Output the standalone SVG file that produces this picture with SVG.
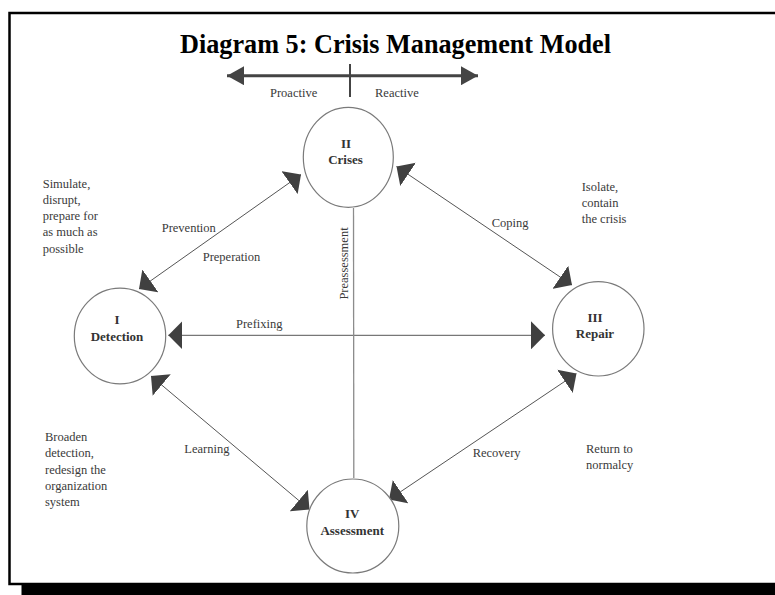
<svg xmlns="http://www.w3.org/2000/svg" width="775" height="595" viewBox="0 0 775 595">
  <style>
    .node ellipse { fill: #ffffff; stroke: #7a7a7a; stroke-width: 1.2; }
    .num { font-family: "Liberation Serif", "Times New Roman", serif; font-size: 13px; font-weight: bold; fill: #333333; text-anchor: middle; }
    .name { font-family: "Liberation Serif", "Times New Roman", serif; font-size: 13px; font-weight: bold; fill: #333333; text-anchor: middle; }
    .edge { fill: none; stroke: #555555; stroke-width: 1; marker-start: url(#wide); marker-end: url(#wide); }
    .label { font-family: "Liberation Serif", "Times New Roman", serif; font-size: 12.5px; fill: #3a3a3a; }
    .note { font-family: "Liberation Serif", "Times New Roman", serif; font-size: 12.5px; fill: #3a3a3a; }
    .title { font-family: "Liberation Serif", "Times New Roman", serif; font-size: 27px; font-weight: bold; fill: #000000; }
  </style>
  <defs>
    <!-- broad 90-degree arrowhead used on the cycle connectors -->
    <marker id="wide" viewBox="0 0 14 28" refX="14" refY="14" markerWidth="14" markerHeight="28" markerUnits="userSpaceOnUse" orient="auto-start-reverse">
      <path d="M0,0 L14,14 L0,28 Z" fill="#404040"/>
    </marker>
    <!-- arrowhead for the proactive / reactive scale -->
    <marker id="scale" viewBox="0 0 17 19" refX="17" refY="9.5" markerWidth="17" markerHeight="19" markerUnits="userSpaceOnUse" orient="auto-start-reverse">
      <path d="M0,0 L17,9.5 L0,19 Z" fill="#444444"/>
    </marker>
  </defs>

  <rect width="775" height="595" fill="#ffffff"/>

  <!-- page frame with drop shadow -->
  <rect x="21.5" y="584" width="760" height="12" fill="#000000"/>
  <rect x="9.5" y="13" width="780" height="571" fill="none" stroke="#000000" stroke-width="2.5"/>

  <text class="title" x="180" y="52.5" textLength="431" lengthAdjust="spacingAndGlyphs">Diagram 5: Crisis Management Model</text>

  <!-- proactive / reactive scale -->
  <g id="scale-bar">
    <line x1="227" y1="75.7" x2="478" y2="75.7" stroke="#444444" stroke-width="3" marker-start="url(#scale)" marker-end="url(#scale)"/>
    <line x1="350" y1="64" x2="350" y2="97" stroke="#444444" stroke-width="2"/>
    <text class="label" x="270" y="97">Proactive</text>
    <text class="label" x="375" y="97">Reactive</text>
  </g>

  <!-- connectors -->
  <g id="connectors">
    <line class="edge" x1="139" y1="289" x2="301" y2="174.6"/>
    <line class="edge" x1="396.5" y1="166.5" x2="572" y2="285"/>
    <line class="edge" x1="168.3" y1="335.3" x2="545" y2="335.3"/>
    <line class="edge" x1="151" y1="376" x2="309.5" y2="509.5"/>
    <line class="edge" x1="576.5" y1="373.5" x2="389" y2="499.5"/>
    <line x1="353.5" y1="208" x2="353.8" y2="478" stroke="#8c8c8c" stroke-width="1.3"/>
  </g>

  <!-- connector labels -->
  <g id="connector-labels">
    <text class="label" x="161.7" y="231.7">Prevention</text>
    <text class="label" x="202.7" y="260.7">Preperation</text>
    <text class="label" x="491.7" y="226.7">Coping</text>
    <text class="label" x="236" y="328.3">Prefixing</text>
    <text class="label" x="184.3" y="453.3">Learning</text>
    <text class="label" x="472.7" y="457">Recovery</text>
    <text class="label" x="0" y="0" font-size="13" text-anchor="middle" transform="translate(348.3 263.5) rotate(-90)">Preassessment</text>
  </g>

  <!-- nodes -->
  <g id="node-crises" class="node">
    <ellipse cx="348.3" cy="157.3" rx="45" ry="50"/>
    <text class="num" x="346" y="148">II</text>
    <text class="name" x="345.5" y="164">Crises</text>
  </g>
  <g id="node-detection" class="node">
    <ellipse cx="120" cy="336" rx="45.7" ry="47.8"/>
    <text class="num" x="117" y="324">I</text>
    <text class="name" x="117" y="340.7">Detection</text>
  </g>
  <g id="node-repair" class="node">
    <ellipse cx="598.3" cy="328.8" rx="45.7" ry="47.2"/>
    <text class="num" x="595" y="321.7">III</text>
    <text class="name" x="595" y="338">Repair</text>
  </g>
  <g id="node-assessment" class="node">
    <ellipse cx="352.8" cy="526" rx="46" ry="47"/>
    <text class="num" x="352.2" y="518.3">IV</text>
    <text class="name" x="352.2" y="535">Assessment</text>
  </g>

  <!-- side notes -->
  <g id="notes">
    <text class="note" x="42.7">
      <tspan x="42.7" y="187.5">Simulate,</tspan>
      <tspan x="42.7" y="203.8">disrupt,</tspan>
      <tspan x="42.7" y="220">prepare for</tspan>
      <tspan x="42.7" y="236.3">as much as</tspan>
      <tspan x="42.7" y="252.6">possible</tspan>
    </text>
    <text class="note" x="581.7">
      <tspan x="581.7" y="190.7">Isolate,</tspan>
      <tspan x="581.7" y="206.7">contain</tspan>
      <tspan x="581.7" y="222.7">the crisis</tspan>
    </text>
    <text class="note" x="45">
      <tspan x="45" y="440.7">Broaden</tspan>
      <tspan x="45" y="457.2">detection,</tspan>
      <tspan x="45" y="473.5">redesign the</tspan>
      <tspan x="45" y="489.8">organization</tspan>
      <tspan x="45" y="506">system</tspan>
    </text>
    <text class="note" x="586">
      <tspan x="586" y="452.7">Return to</tspan>
      <tspan x="586" y="469">normalcy</tspan>
    </text>
  </g>
</svg>
